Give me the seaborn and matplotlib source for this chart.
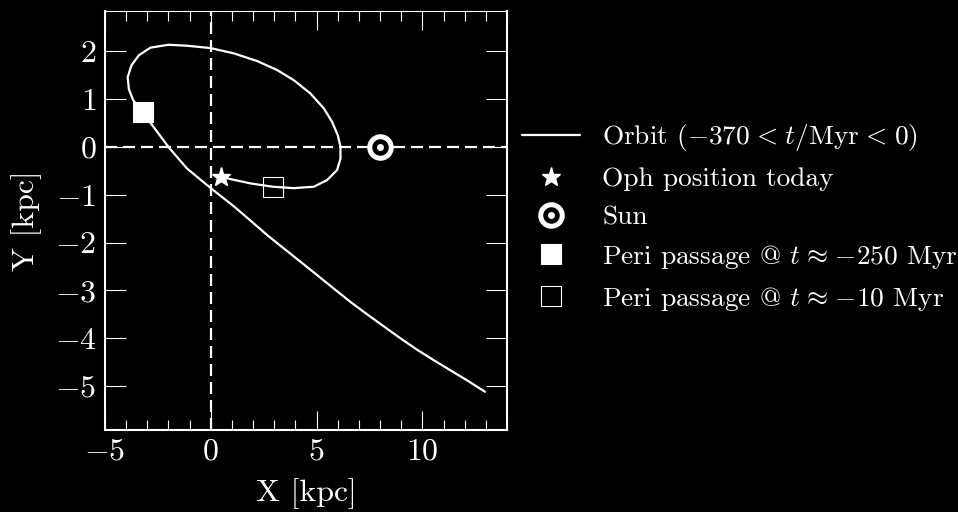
import numpy as np
import pandas as pd
import matplotlib
matplotlib.use("Agg")
import matplotlib.pyplot as plt
from matplotlib.lines import Line2D
from matplotlib.ticker import MultipleLocator
import seaborn as sns

# ---- data ----
orbit_x = [12.96, 12.11, 11.32, 10.54, 9.75, 8.96, 8.17, 7.39, 6.60, 5.81, 5.03,
           4.24, 3.45, 2.66, 1.88, 1.09, 0.0, -1.12, -1.98, -2.77, -3.21,
           -3.67, -3.87, -3.93, -3.75, -3.40, -2.85, -2.0, -1.12, 0.0, 1.09,
           2.19, 3.14, 3.92, 4.71, 5.34, 5.73, 6.0, 6.13, 6.13, 5.97, 5.50,
           4.87, 3.92, 2.93, 1.87, 0.93, 0.48]
orbit_y = [-5.12, -4.88, -4.67, -4.46, -4.24, -4.00, -3.75, -3.50, -3.24, -2.96, -2.68,
           -2.40, -2.12, -1.84, -1.54, -1.24, -0.86, -0.45, -0.01, 0.46, 0.73,
           0.98, 1.21, 1.46, 1.71, 1.92, 2.08, 2.14, 2.12, 2.07, 1.96,
           1.80, 1.61, 1.40, 1.12, 0.81, 0.53, 0.25, 0.01, -0.24, -0.48, -0.69,
           -0.83, -0.86, -0.83, -0.76, -0.67, -0.62]
today_xy = (0.48, -0.62)
sun_xy = (8.0, 0.0)
peri_old_xy = (-3.21, 0.73)
peri_new_xy = (2.93, -0.83)

labels = [r"Orbit ($-370\hspace{0.1}<\hspace{0.1}t/\mathrm{Myr}\hspace{0.1}<\hspace{0.1}0$)",
          "Oph position today",
          "Sun",
          r"Peri passage @ $t\hspace{0.1}\approx\hspace{0.1}{-250}$ Myr",
          r"Peri passage @ $t\hspace{0.1}\approx\hspace{0.1}{-10}$ Myr"]

# ---- style ----
sns.set_theme(style="ticks")
plt.rcParams.update({
    "font.family": "serif",
    "font.serif": ["cmr10"],
    "mathtext.fontset": "cm",
    "axes.formatter.use_mathtext": True,
    "axes.unicode_minus": True,
    "figure.facecolor": "black",
    "axes.facecolor": "black",
    "savefig.facecolor": "black",
    "text.color": "white",
    "axes.labelcolor": "white",
    "xtick.color": "white",
    "ytick.color": "white",
    "axes.edgecolor": "white",
})

fig = plt.figure(figsize=(9.58, 5.12), dpi=100)
ax = fig.add_axes([105 / 958, 82 / 512, 402 / 958, 419.3 / 512])

ax.axhline(0, color="white", lw=1.6, ls=(0, (5.4, 2.7)), zorder=1)
ax.axvline(0, color="white", lw=1.6, ls=(0, (5.4, 2.7)), zorder=1)

df = pd.DataFrame({"x": orbit_x, "y": orbit_y})
sns.lineplot(data=df, x="x", y="y", sort=False, estimator=None,
             color="white", lw=1.6, ax=ax, zorder=3)

h_today, = ax.plot([today_xy[0]], [today_xy[1]], ls="none", marker="*",
                   ms=14, color="white", mec="white", zorder=5)
h_ring, = ax.plot([sun_xy[0]], [sun_xy[1]], ls="none", marker="o", ms=15.5,
                  mfc="black", mec="white", mew=3.6, zorder=5)
h_dot, = ax.plot([sun_xy[0]], [sun_xy[1]], ls="none", marker="o", ms=5,
                 mfc="white", mec="white", mew=0, zorder=6)
h_p1, = ax.plot([peri_old_xy[0]], [peri_old_xy[1]], ls="none", marker="s",
                ms=15, mfc="white", mec="white", mew=0.8, zorder=5)
h_p2, = ax.plot([peri_new_xy[0]], [peri_new_xy[1]], ls="none", marker="s",
                ms=15, mfc="none", mec="white", mew=0.8, zorder=5)

h_orbit = Line2D([], [], color="white", lw=1.6)

ax.set_xlim(-5, 14)
ax.set_ylim(-5.92, 2.853)
ax.xaxis.set_major_locator(MultipleLocator(5))
ax.xaxis.set_minor_locator(MultipleLocator(1))
ax.yaxis.set_major_locator(MultipleLocator(1))

ax.tick_params(which="both", direction="in", top=True, right=True,
               colors="white", width=0.8, labelsize=23)
ax.tick_params(axis="x", which="major", length=14, pad=6)
ax.tick_params(axis="x", which="minor", length=7)
ax.tick_params(axis="y", which="major", length=15, pad=6)
ax.tick_params(axis="y", which="minor", length=0)

for side, sp in ax.spines.items():
    sp.set_visible(True)
    sp.set_color("white")
    sp.set_linewidth(1.5 if side != "top" else 0.8)

ax.set_xlabel("X [kpc]", fontsize=23, labelpad=9)
ax.set_ylabel("Y [kpc]", fontsize=23, labelpad=9)

fig.legend([h_orbit, h_today, (h_ring, h_dot), h_p1, h_p2], labels,
           loc="center left", bbox_to_anchor=(522 / 958, 1 - 217.5 / 512),
           bbox_transform=fig.transFigure, frameon=False, fontsize=19.7,
           handlelength=2.13, handletextpad=0.8, borderpad=0, borderaxespad=0,
           labelspacing=0.5, numpoints=1)

fig.savefig("out.png", dpi=100, facecolor="black")
